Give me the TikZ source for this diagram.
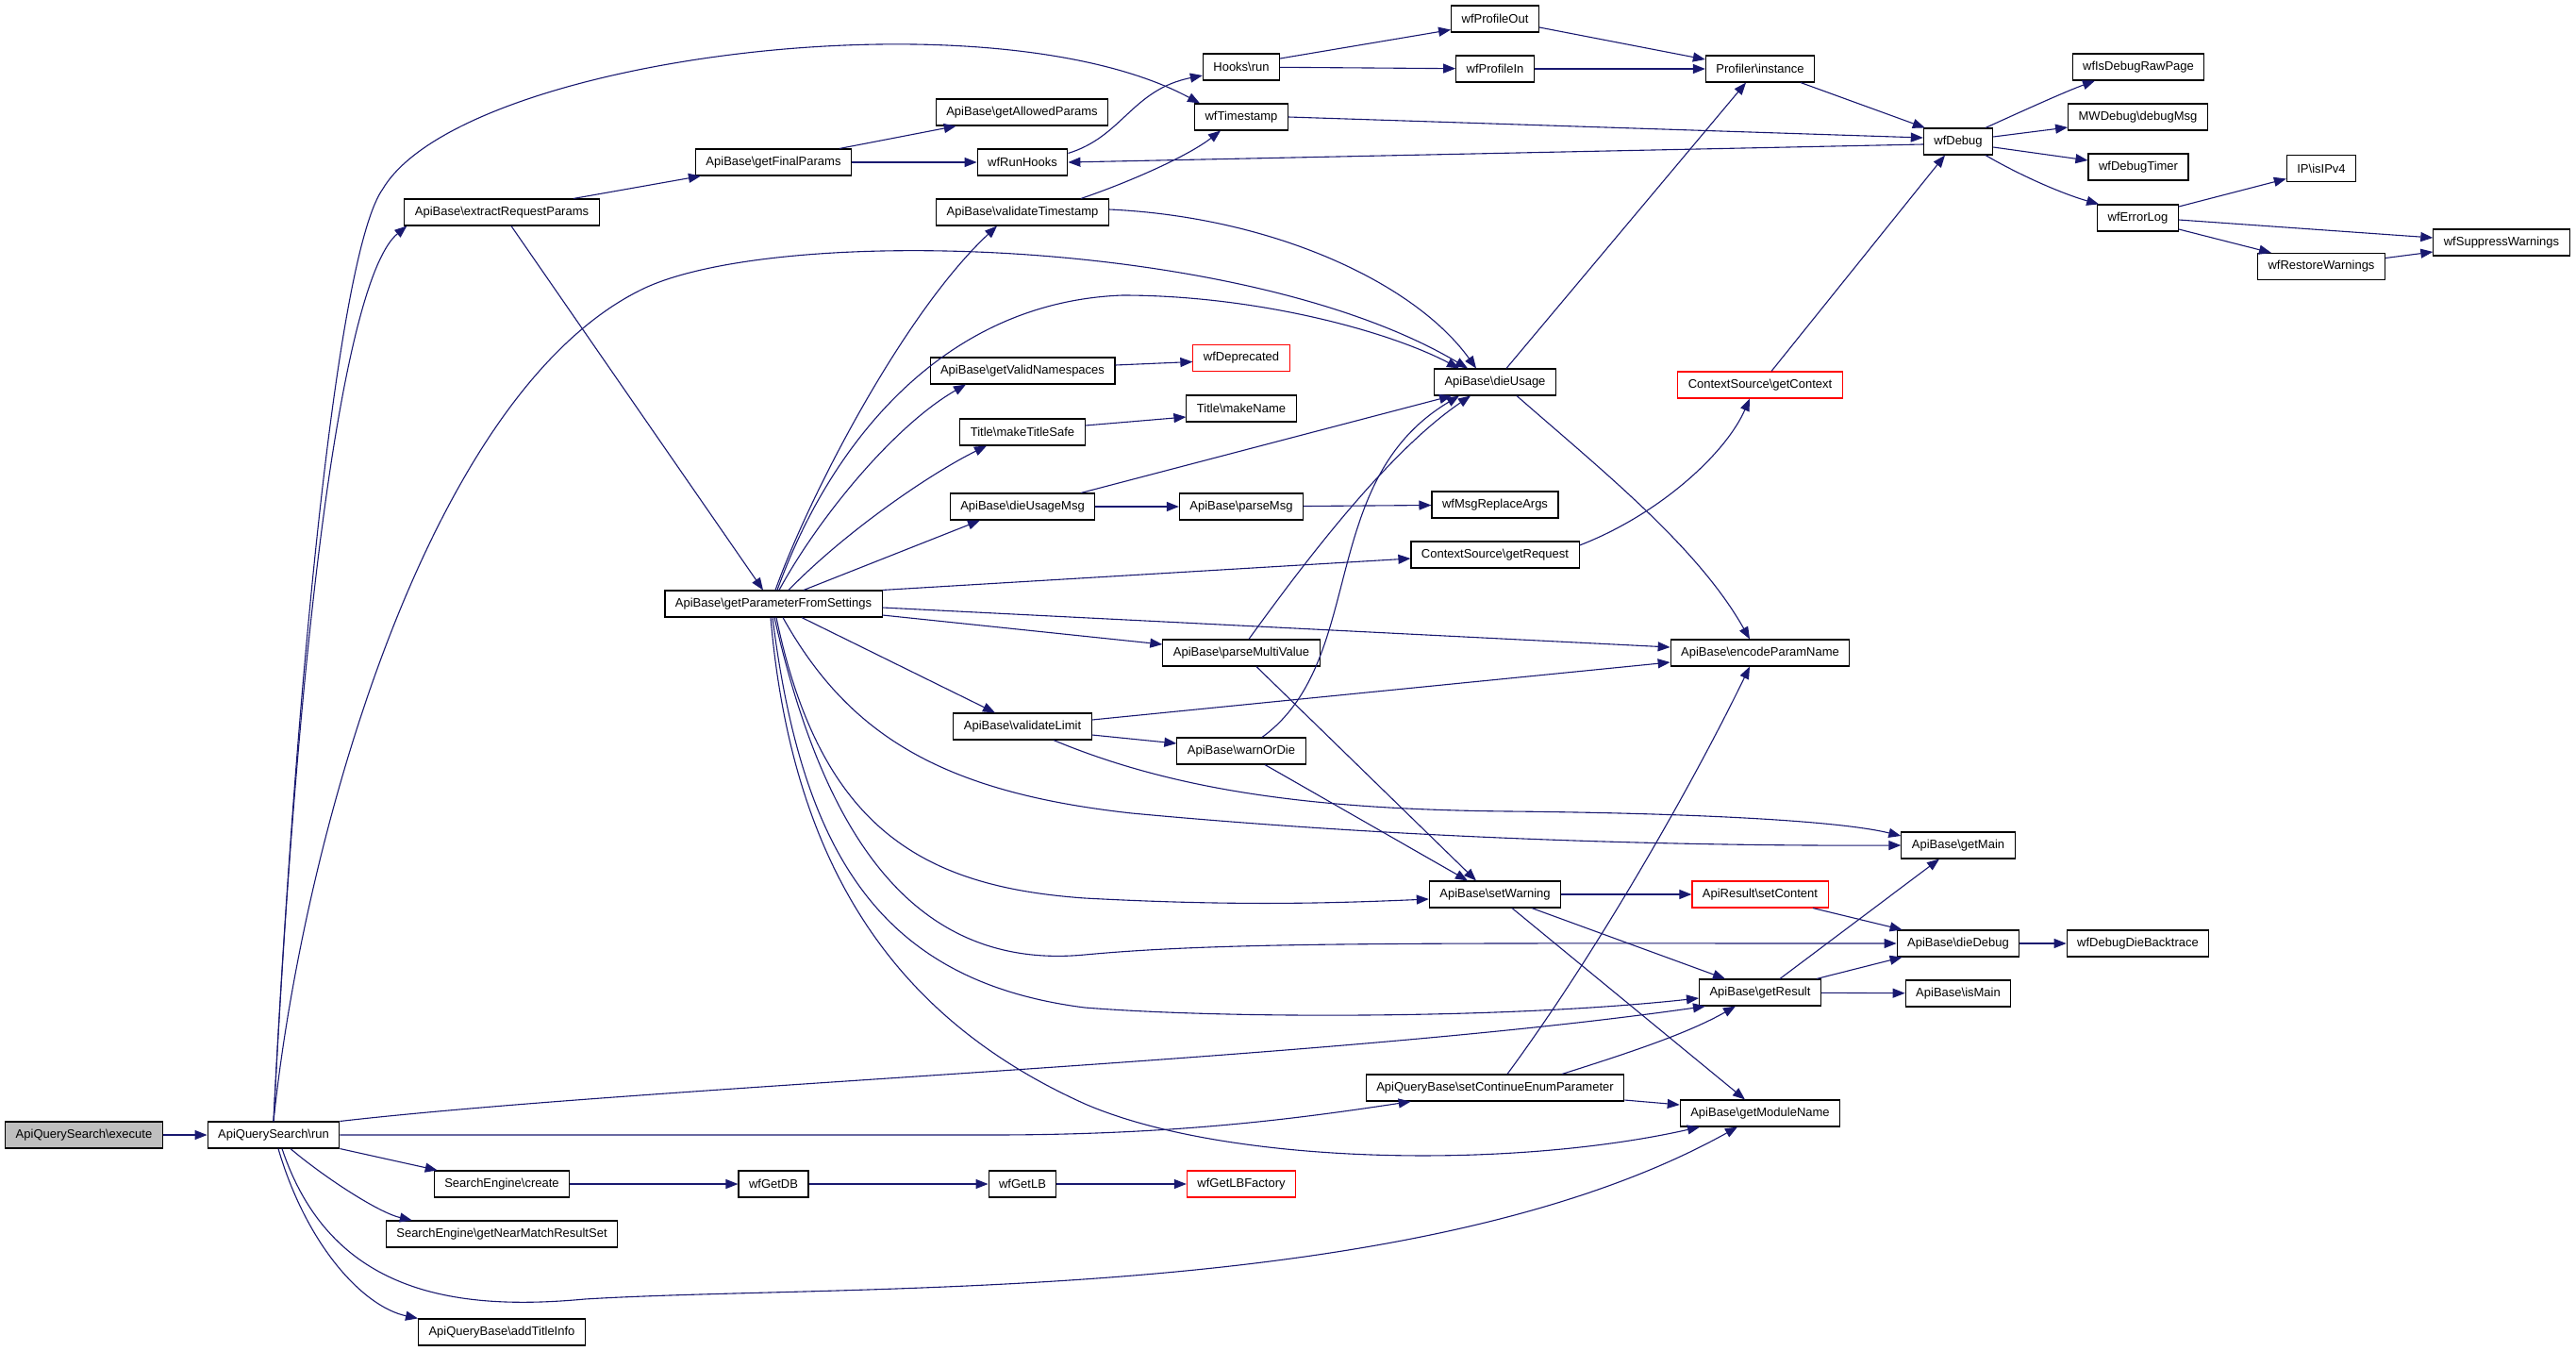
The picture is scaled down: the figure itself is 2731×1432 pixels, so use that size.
\documentclass[tikz,border=0pt]{standalone}
\usepackage{fontspec}
\setmainfont{Liberation Sans}
\usetikzlibrary{arrows.meta}
\definecolor{edgeblue}{HTML}{191970}
\definecolor{nodegray}{HTML}{BFBFBF}
\begin{document}
\begin{tikzpicture}[x=1pt,y=-1pt,
  box/.style={draw=black,line width=1.1pt,fill=white,minimum height=28pt,inner xsep=11pt,inner ysep=0pt,font=\fontsize{13}{15}\selectfont},
  redbox/.style={box,draw=red},
  graybox/.style={box,fill=nodegray},
  conn/.style={draw=edgeblue,line width=1.1pt,-{Triangle[length=13pt,width=10pt]}}]
\useasboundingbox (0,0) rectangle (2731,1432);
% nodes
\node[graybox] (exe) at (89,1203) {ApiQuerySearch\textbackslash execute};
\node[box] (run) at (290,1203) {ApiQuerySearch\textbackslash run};
\node[box] (erp) at (532,225) {ApiBase\textbackslash extractRequestParams};
\node[box] (sec) at (532,1255) {SearchEngine\textbackslash create};
\node[box] (nmr) at (532,1308) {SearchEngine\textbackslash getNearMatchResultSet};
\node[box] (ati) at (532,1412) {ApiQueryBase\textbackslash addTitleInfo};
\node[box] (gfp) at (820,172) {ApiBase\textbackslash getFinalParams};
\node[box] (gps) at (820,640) {ApiBase\textbackslash getParameterFromSettings};
\node[box] (gdb) at (820,1255) {wfGetDB};
\node[box] (gap) at (1083.5,119) {ApiBase\textbackslash getAllowedParams};
\node[box] (rh) at (1084,172) {wfRunHooks};
\node[box] (vts) at (1084,225) {ApiBase\textbackslash validateTimestamp};
\node[box] (gvn) at (1084,393) {ApiBase\textbackslash getValidNamespaces};
\node[box] (mts) at (1084,458) {Title\textbackslash makeTitleSafe};
\node[box] (dum) at (1084,537) {ApiBase\textbackslash dieUsageMsg};
\node[box] (vl) at (1084,770) {ApiBase\textbackslash validateLimit};
\node[box] (glb) at (1084,1255) {wfGetLB};
\node[box] (hr) at (1316,71) {Hooks\textbackslash run};
\node[box] (wts) at (1316,124) {wfTimestamp};
\node[redbox] (dep) at (1316,379.5) {wfDeprecated};
\node[box] (mn) at (1316,433) {Title\textbackslash makeName};
\node[box] (pm) at (1316,537) {ApiBase\textbackslash parseMsg};
\node[box] (pmv) at (1316,692) {ApiBase\textbackslash parseMultiValue};
\node[box] (wod) at (1316,796) {ApiBase\textbackslash warnOrDie};
\node[redbox] (lbf) at (1316,1255) {wfGetLBFactory};
\node[box] (po) at (1585,20) {wfProfileOut};
\node[box] (pi) at (1585,73) {wfProfileIn};
\node[box] (du) at (1585,405) {ApiBase\textbackslash dieUsage};
\node[box] (mra) at (1585,535) {wfMsgReplaceArgs};
\node[box] (grq) at (1585,588) {ContextSource\textbackslash getRequest};
\node[box] (sw) at (1585,948) {ApiBase\textbackslash setWarning};
\node[box] (sce) at (1585,1153) {ApiQueryBase\textbackslash setContinueEnumParameter};
\node[box] (pin) at (1866,73) {Profiler\textbackslash instance};
\node[redbox] (gctx) at (1866,408) {ContextSource\textbackslash getContext};
\node[box] (epn) at (1866,692) {ApiBase\textbackslash encodeParamName};
\node[redbox] (sc) at (1866,948) {ApiResult\textbackslash setContent};
\node[box] (gr) at (1866,1052) {ApiBase\textbackslash getResult};
\node[box] (gmn) at (1866,1180) {ApiBase\textbackslash getModuleName};
\node[box] (wd) at (2076,150) {wfDebug};
\node[box] (gm) at (2076,896) {ApiBase\textbackslash getMain};
\node[box] (dd) at (2076,1000) {ApiBase\textbackslash dieDebug};
\node[box] (im) at (2076,1053) {ApiBase\textbackslash isMain};
\node[box] (idr) at (2267,71) {wfIsDebugRawPage};
\node[box] (dbm) at (2266.5,124) {MWDebug\textbackslash debugMsg};
\node[box] (dt) at (2267,177) {wfDebugTimer};
\node[box] (el) at (2266.5,231) {wfErrorLog};
\node[box] (ddb) at (2266.5,1000) {wfDebugDieBacktrace};
\node[box] (ip4) at (2461,178.5) {IP\textbackslash isIPv4};
\node[box] (rw) at (2461,282.5) {wfRestoreWarnings};
\node[box] (sws) at (2652,257) {wfSuppressWarnings};
% edges
\draw[conn] (exe) -- (run);
\draw[conn] (run.north) .. controls (320,600) and (370,290) .. ([xshift=3pt]erp.south west);
\draw[conn] (run.north) .. controls (315,700) and (359,265) .. (406,200) .. controls (490,60) and (1050,-10) .. ([xshift=6pt]wts.north west);
\draw[conn] (run.north) .. controls (320,900) and (450,420) .. (680,307) .. controls (820,238) and (1320,250) .. ([xshift=-29pt]du.north);
\draw[conn] (run.north east) .. controls (700,1150) and (1400,1125) .. ([xshift=7pt]gr.south west);
\draw[conn] (run.east) -- (1050,1203) .. controls (1250,1203) and (1380,1185) .. ([xshift=48pt]sce.south west);
\draw[conn] (run.south east) -- ([xshift=4pt]sec.north west);
\draw[conn] ([xshift=18pt]run.south) .. controls (340,1245) and (400,1285) .. ([xshift=28pt]nmr.north west);
\draw[conn] ([xshift=9pt]run.south) .. controls (350,1370) and (480,1390) .. (620,1377) .. controls (900,1360) and (1500,1385) .. ([xshift=-24pt]gmn.south);
\draw[conn] ([xshift=5pt]run.south) .. controls (325,1320) and (385,1385) .. (ati.north west);
\draw[conn] (sec) -- (gdb);
\draw[conn] (gdb) -- (glb);
\draw[conn] (glb) -- (lbf);
\draw[conn] ([xshift=76pt]erp.north) -- ([xshift=6pt]gfp.south west);
\draw[conn] ([xshift=10pt]erp.south) -- ([xshift=-11pt]gps.north);
\draw[conn] ([xshift=70pt]gfp.north) -- ([xshift=22pt]gap.south west);
\draw[conn] (gfp) -- (rh);
\draw[conn] ([yshift=-5pt]rh.north east) .. controls (1190,145) and (1200,95) .. ([yshift=-9pt]hr.west);
\draw[conn] ([yshift=9pt]hr.east) -- ([yshift=3pt]po.south west);
\draw[conn] (hr) -- (pi);
\draw[conn] ([yshift=-9pt]po.east) -- ([yshift=10pt]pin.west);
\draw[conn] (pi) -- (pin);
\draw[conn] ([xshift=43pt]pin.south) -- ([xshift=2pt]wd.north west);
\draw[conn] (wts.east) -- ([yshift=4pt]wd.west);
\draw[conn] ([yshift=-3pt]wd.west) -- (rh.east);
\draw[conn] ([xshift=29pt]wd.north) .. controls (2150,115) and (2190,97) .. ([xshift=-46pt]idr.south);
\draw[conn] ([yshift=5pt]wd.east) -- ([yshift=-11pt]dbm.west);
\draw[conn] ([yshift=-6pt]wd.east) -- ([yshift=7pt]dt.west);
\draw[conn] ([xshift=29pt]wd.south) .. controls (2140,185) and (2185,205) .. ([xshift=2pt]el.north west);
\draw[conn] ([yshift=12pt]el.east) -- ([yshift=-11pt]ip4.west);
\draw[conn] ([yshift=-2pt]el.east) -- ([yshift=5pt]sws.west);
\draw[conn] ([yshift=-12pt]el.east) -- ([xshift=15pt]rw.north west);
\draw[conn] ([yshift=9pt]rw.east) -- ([yshift=-10pt]sws.west);
\draw[conn] ([xshift=62pt]vts.north) .. controls (1200,192) and (1260,165) .. ([xshift=-22pt]wts.south);
\draw[conn] ([yshift=3pt]vts.east) .. controls (1350,230) and (1500,300) .. ([xshift=-20pt]du.north);
\draw[conn] ([xshift=12pt]du.north) -- ([xshift=-15pt]pin.south);
\draw[conn] ([xshift=23pt]du.south) .. controls (1700,500) and (1800,580) .. ([xshift=-11pt]epn.north);
\draw[conn] ([xshift=12pt]gctx.north) -- ([xshift=-14pt]wd.south);
\draw[conn] ([yshift=10pt]grq.east) .. controls (1760,545) and (1830,480) .. ([xshift=-11pt]gctx.south);
\draw[conn] ([yshift=6pt]gvn.east) -- ([yshift=-4pt]dep.west);
\draw[conn] ([yshift=7pt]mts.east) -- ([yshift=-9pt]mn.west);
\draw[conn] ([xshift=62pt]dum.north) -- ([xshift=19pt]du.south west);
\draw[conn] (dum) -- (pm);
\draw[conn] (pm) -- (mra);
\draw[conn] ([xshift=8pt]pmv.north) .. controls (1380,600) and (1470,480) .. ([xshift=-26pt]du.south);
\draw[conn] ([xshift=22pt]wod.north) .. controls (1450,700) and (1395,510) .. ([xshift=-38pt]du.south);
\draw[conn] ([xshift=16pt]pmv.south) -- ([xshift=-20pt]sw.north);
\draw[conn] ([xshift=25pt]wod.south) -- ([xshift=-29pt]sw.north);
\draw[conn] ([yshift=7pt]vl.east) -- ([yshift=-10pt]epn.west);
\draw[conn] ([yshift=-9pt]vl.east) -- ([yshift=8pt]wod.west);
\draw[conn] ([xshift=33pt]vl.south) .. controls (1250,840) and (1400,858) .. (1600,860) .. controls (1800,862) and (1950,870) .. ([yshift=10pt]gm.west);
\draw[conn] (sw) -- (sc);
\draw[conn] ([xshift=39pt]sw.south) -- ([xshift=-37pt]gr.north);
\draw[conn] ([xshift=18pt]sw.south) -- ([xshift=-16pt]gmn.north);
\draw[conn] ([xshift=56pt]sc.south) -- ([xshift=6pt]dd.north west);
\draw[conn] ([xshift=21pt]gr.north) -- ([xshift=-20pt]gm.south);
\draw[conn] ([xshift=60pt]gr.north) -- ([xshift=6pt]dd.south west);
\draw[conn] (gr) -- (im);
\draw[conn] (dd) -- (ddb);
\draw[conn] ([xshift=13pt]sce.north) .. controls (1700,1000) and (1800,820) .. ([xshift=-11pt]epn.south);
\draw[conn] ([xshift=71pt]sce.north) .. controls (1730,1115) and (1790,1095) .. ([xshift=-26pt]gr.south);
\draw[conn] ([yshift=-13pt]sce.east) -- ([yshift=9pt]gmn.west);
% from getParameterFromSettings
\draw[conn] ([xshift=2pt]gps.north) .. controls (860,520) and (960,330) .. ([xshift=-27pt]vts.south);
\draw[conn] ([xshift=4pt]gps.north) .. controls (880,470) and (1000,320) .. (1190,313) .. controls (1330,313) and (1470,350) .. ([xshift=-38pt]du.north);
\draw[conn] ([xshift=6pt]gps.north) .. controls (870,545) and (950,450) .. ([xshift=-60pt]gvn.south);
\draw[conn] ([xshift=16pt]gps.north) .. controls (900,560) and (990,500) .. ([xshift=-38pt]mts.south);
\draw[conn] ([xshift=32pt]gps.north) -- ([xshift=-45pt]dum.south);
\draw[conn] (gps.north east) -- ([yshift=-4pt]grq.west);
\draw[conn] ([yshift=-4pt]gps.east) -- ([yshift=6pt]epn.west);
\draw[conn] ([yshift=-12pt]gps.east) -- ([yshift=9pt]pmv.west);
\draw[conn] ([xshift=30pt]gps.south) -- ([xshift=-29pt]vl.north);
\draw[conn] ([xshift=10pt]gps.south) .. controls (900,780) and (1000,840) .. (1200,862) .. controls (1500,890) and (1800,897) .. (gm.west);
\draw[conn] ([xshift=3pt]gps.south) .. controls (870,880) and (980,940) .. (1150,952) .. controls (1300,960) and (1400,958) .. ([yshift=-5pt]sw.west);
\draw[conn] ([xshift=1pt]gps.south) .. controls (870,870) and (960,1030) .. (1150,1012) .. controls (1300,998) and (1500,1000) .. (dd.west);
\draw[conn] ([xshift=-1pt]gps.south) .. controls (850,900) and (930,1040) .. (1150,1068) .. controls (1300,1080) and (1600,1080) .. ([yshift=-6pt]gr.west);
\draw[conn] ([xshift=-3pt]gps.south) .. controls (840,920) and (950,1080) .. (1150,1170) .. controls (1300,1235) and (1600,1240) .. ([xshift=-64pt]gmn.south);
\end{tikzpicture}
\end{document}
